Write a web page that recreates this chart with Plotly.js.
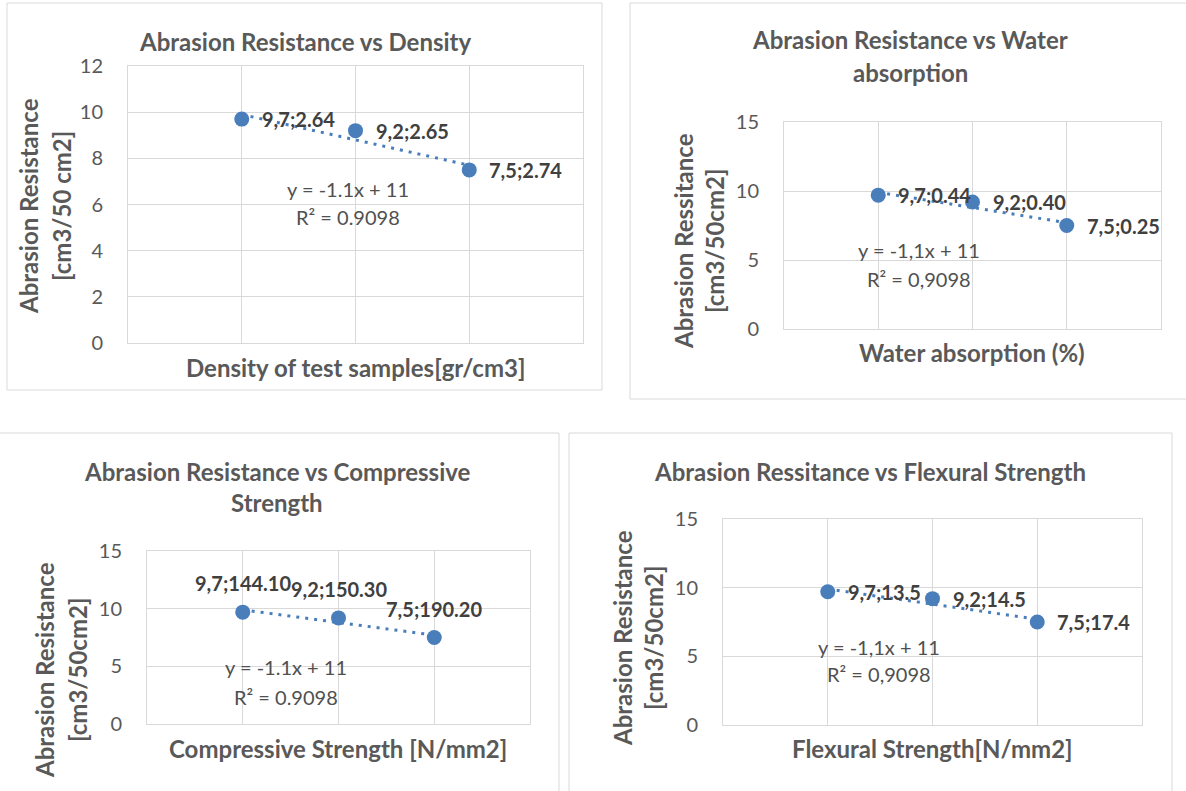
<!DOCTYPE html>
<html>
<head>
<meta charset="utf-8">
<script src="https://cdn.plot.ly/plotly-3.0.1.min.js"></script>
<style>html,body{margin:0;padding:0;background:#fff;}#chart{width:1186px;height:791px;}</style>
</head>
<body>
<div id="chart"></div>
<script>
// ---------- DATA ----------
const abrasion = [9.7, 9.2, 7.5];
const abrasionText = ['9,7', '9,2', '7,5'];
const density = ['2.64', '2.65', '2.74'];
const waterAbsorption = ['0.44', '0.40', '0.25'];
const compressive = ['144.10', '150.30', '190.20'];
const flexural = ['13.5', '14.5', '17.4'];

const chartTitles = [
  ['Abrasion Resistance vs Density'],
  ['Abrasion Resistance vs Water', 'absorption'],
  ['Abrasion Resistance vs Compressive', 'Strength'],
  ['Abrasion Ressitance vs Flexural Strength']
];
const xTitles = ['Density of test samples[gr/cm3]', 'Water absorption (%)', 'Compressive Strength [N/mm2]', 'Flexural Strength[N/mm2]'];
const yTitles = [
  ['Abrasion Resistance', '[cm3/50 cm2]'],
  ['Abrasion Ressitance', '[cm3/50cm2]'],
  ['Abrasion Resistance', '[cm3/50cm2]'],
  ['Abrasion Resistance', '[cm3/50cm2]']
];
const yMaxes = [12, 15, 15, 15];
const yDticks = [2, 5, 5, 5];
const decimalComma = [false, true, false, true];
const xCategories = [density, waterAbsorption, compressive, flexural];

// ---------- GEOMETRY (pixels) ----------
const W = 1186, H = 791;
const geom = [
  {plot: [128, 66, 583, 343], box: [7, 3, 602, 390], tx: 305, ty: [41], xt: [355, 367], ytx: [28, 61], yty: 206, eq: [348, 189, 217], lab: 'right'},
  {plot: [784, 122, 1161, 329], box: [630, 3, 1200, 399], tx: 910, ty: [40, 73], xt: [972, 352], ytx: [683, 714], yty: 241, eq: [919, 250, 279], lab: 'right'},
  {plot: [147, 551, 530, 724], box: [-5, 433, 559, 800], tx: 277, ty: [472, 502], xt: [338, 748], ytx: [44, 77], yty: 670, eq: [286, 667, 697], lab: 'top'},
  {plot: [723, 519, 1142, 725], box: [569, 433, 1172, 800], tx: 870, ty: [472], xt: [932, 748], ytx: [622, 653], yty: 638, eq: [879, 647, 674], lab: 'right'}
];
const px = x => x / W;
const py = y => 1 - y / H;

const FONT = 'Lato, "Open Sans", sans-serif';
const GRAY = '#595959';
const DARK = '#404040';
const BLUE = '#4a7ebb';
const GRID = '#d9d9d9';
const TITLE_SIZE = 24;

// linear fit over category index 1..n (Excel line-chart trendline)
function fit(ys) {
  const n = ys.length;
  const xs = ys.map((_, i) => i + 1);
  const mx = xs.reduce((a, b) => a + b, 0) / n;
  const my = ys.reduce((a, b) => a + b, 0) / n;
  let sxy = 0, sxx = 0, sst = 0;
  for (let i = 0; i < n; i++) { sxy += (xs[i] - mx) * (ys[i] - my); sxx += (xs[i] - mx) ** 2; sst += (ys[i] - my) ** 2; }
  const m = sxy / sxx, b = my - m * mx;
  let sse = 0;
  for (let i = 0; i < n; i++) sse += (ys[i] - (m * xs[i] + b)) ** 2;
  return {m, b, r2: 1 - sse / sst};
}

const traces = [];
const annotations = [];
const shapes = [];
const layout = {
  width: W, height: H,
  margin: {l: 0, r: 0, t: 0, b: 0},
  paper_bgcolor: '#fff', plot_bgcolor: '#fff',
  showlegend: false,
  font: {family: FONT, color: GRAY}
};

const f = fit(abrasion);

geom.forEach((g, k) => {
  const s = k === 0 ? '' : String(k + 1);
  const xa = 'x' + s, ya = 'y' + s;
  const cats = xCategories[k];
  const n = cats.length;

  layout['xaxis' + s] = {
    domain: [px(g.plot[0]), px(g.plot[2])], anchor: ya, type: 'category',
    categoryorder: 'array', categoryarray: cats,
    range: [-1, n], showticklabels: false, ticks: '',
    showgrid: true, gridcolor: GRID, gridwidth: 1,
    showline: true, mirror: true, linecolor: GRID, linewidth: 1, zeroline: false, fixedrange: true
  };
  layout['yaxis' + s] = {
    domain: [py(g.plot[3]), py(g.plot[1])], anchor: xa,
    range: [0, yMaxes[k]], dtick: yDticks[k], tick0: 0, ticks: '',
    ticklabelstandoff: 20,
    tickfont: {family: FONT, size: 20, color: GRAY},
    showgrid: true, gridcolor: GRID, gridwidth: 1,
    showline: true, mirror: true, linecolor: GRID, linewidth: 1, zeroline: false, fixedrange: true
  };

  // trendline
  traces.push({
    x: [cats[0], cats[n - 1]], y: [f.m * 1 + f.b, f.m * n + f.b],
    xaxis: xa, yaxis: ya, mode: 'lines', hoverinfo: 'skip',
    line: {color: BLUE, width: 3, dash: '3px,6px'}
  });
  // points
  traces.push({
    x: cats, y: abrasion, xaxis: xa, yaxis: ya, mode: 'markers',
    marker: {color: BLUE, size: 15, line: {width: 0}}
  });

  // data labels (x given as category index)
  cats.forEach((c, i) => {
    const a = {
      xref: xa, yref: ya, x: i, y: abrasion[i],
      text: abrasionText[i] + ';' + c, showarrow: false,
      font: {family: FONT, size: 20, color: DARK, weight: 'bold'}
    };
    if (g.lab === 'right') { a.xanchor = 'left'; a.yanchor = 'middle'; a.xshift = 18; }
    else { a.xanchor = 'center'; a.yanchor = 'middle'; a.yshift = 29; }
    annotations.push(a);
  });

  // equation
  const fmt = v => { let t = String(v); return decimalComma[k] ? t.replace('.', ',') : t; };
  const slope = Number(f.m.toPrecision(2));
  const icpt = Number(f.b.toPrecision(2));
  const eq1 = 'y = ' + fmt(slope) + 'x + ' + fmt(icpt);
  const eq2 = 'R² = ' + fmt(f.r2.toFixed(4));
  [eq1, eq2].forEach((t, j) => annotations.push({
    xref: 'paper', yref: 'paper', x: px(g.eq[0]), y: py(g.eq[1 + j]), xanchor: 'center', yanchor: 'middle',
    text: t, showarrow: false, font: {family: FONT, size: 20, color: '#505050'}
  }));

  // chart title
  chartTitles[k].forEach((t, j) => annotations.push({
    xref: 'paper', yref: 'paper', x: px(g.tx), y: py(g.ty[j]), xanchor: 'center', yanchor: 'middle',
    text: t, showarrow: false, font: {family: FONT, size: TITLE_SIZE, color: GRAY, weight: 'bold'}
  }));
  // x title
  annotations.push({
    xref: 'paper', yref: 'paper', x: px(g.xt[0]), y: py(g.xt[1]), xanchor: 'center', yanchor: 'middle',
    text: xTitles[k], showarrow: false, font: {family: FONT, size: TITLE_SIZE, color: GRAY, weight: 'bold'}
  });
  // y title
  yTitles[k].forEach((t, j) => annotations.push({
    xref: 'paper', yref: 'paper', x: px(g.ytx[j]), y: py(g.yty), xanchor: 'center', yanchor: 'middle',
    textangle: -90, text: t, showarrow: false, font: {family: FONT, size: TITLE_SIZE, color: GRAY, weight: 'bold'}
  }));

  // chart border
  shapes.push({
    type: 'rect', xref: 'paper', yref: 'paper', layer: 'below',
    x0: px(g.box[0]), x1: px(g.box[2]), y0: py(g.box[3]), y1: py(g.box[1]),
    line: {color: GRID, width: 1}, fillcolor: 'rgba(0,0,0,0)'
  });
});

layout.annotations = annotations;
layout.shapes = shapes;

Plotly.newPlot('chart', traces, layout, {staticPlot: true, displayModeBar: false});
</script>
</body>
</html>
